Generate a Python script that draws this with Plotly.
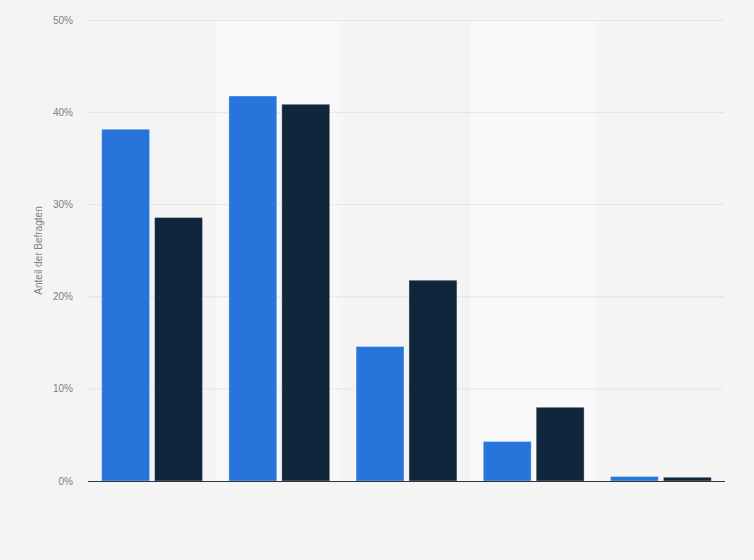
import plotly.graph_objects as go

categories = ["Kategorie 1", "Kategorie 2", "Kategorie 3", "Kategorie 4", "Kategorie 5"]
series_a = [38.2, 41.8, 14.6, 4.3, 0.5]
series_b = [28.6, 40.9, 21.8, 8.0, 0.4]
series_names = ["Gruppe A", "Gruppe B"]
y_ticks = [0, 10, 20, 30, 40, 50]
y_tick_labels = [f"{v}%" for v in y_ticks]

fig = go.Figure()
fig.add_trace(go.Bar(x=categories, y=series_a, name=series_names[0],
                     marker=dict(color="#2775db", line=dict(color="rgba(255,255,255,0.35)", width=1))))
fig.add_trace(go.Bar(x=categories, y=series_b, name=series_names[1],
                     marker=dict(color="#10263d", line=dict(color="rgba(255,255,255,0.35)", width=1))))

shapes = []
for i, _ in enumerate(categories):
    if i % 2 == 1:
        shapes.append(dict(type="rect", xref="x", yref="y", x0=i - 0.5, x1=i + 0.5,
                           y0=0, y1=50, fillcolor="#f8f8f8", line=dict(width=0), layer="below"))
for v in y_ticks[1:]:
    shapes.append(dict(type="line", xref="x", yref="y", x0=-0.5, x1=len(categories) - 0.5,
                       y0=v, y1=v, line=dict(color="#d4d4d4", width=1, dash="1px,1px"), layer="below"))

fig.update_layout(
    width=754, height=560,
    margin=dict(l=88, r=29, t=20, b=79),
    paper_bgcolor="#f4f4f4", plot_bgcolor="#f4f4f4",
    barmode="group", bargap=0.168, bargroupgap=0.094,
    showlegend=False,
    shapes=shapes,
    font=dict(family="Arial, Liberation Sans, sans-serif", size=10, color="#808080"),
    xaxis=dict(showticklabels=False, showgrid=False, showline=True, linecolor="#333333",
               linewidth=1, ticks="", zeroline=False),
    yaxis=dict(range=[0, 50.05], tickvals=y_ticks, ticktext=y_tick_labels,
               showgrid=False, zeroline=False, ticks="", ticklabelstandoff=14,
               title=dict(text="Anteil der Befragten", font=dict(size=10, color="#808080"), standoff=8),
               tickfont=dict(size=10, color="#808080")),
)

fig.write_html("out.html", config={"displayModeBar": False},
               post_script="document.body.style.margin='0';document.body.style.background='#f4f4f4';")
